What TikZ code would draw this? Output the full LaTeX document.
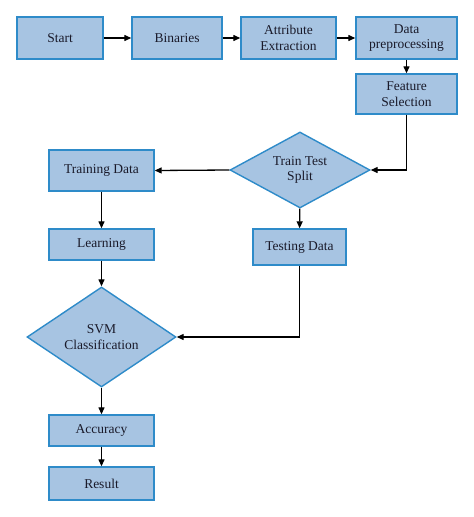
\documentclass[tikz,border=0pt]{standalone}
\usepackage{fontspec}
\setmainfont{Liberation Serif}
\usetikzlibrary{shapes.geometric,arrows.meta}
\definecolor{boxfill}{HTML}{A7C4E2}
\definecolor{boxline}{HTML}{2E8BC9}
\definecolor{txt}{HTML}{1A1A2A}
\begin{document}
\begin{tikzpicture}[x=1pt,y=-1pt,
  every node/.style={font=\fontsize{13.5}{15.5}\selectfont, text=txt, align=center},
  stepbox/.style={draw=boxline, fill=boxfill, line width=1.4pt, inner sep=0pt},
  decision/.style={diamond, draw=boxline, fill=boxfill, line width=1.4pt, inner sep=0pt},
  conn/.style={-{Triangle[length=7pt,width=6pt]}, line width=1.3pt, black}]
\useasboundingbox (0,0) rectangle (474,517);
% row 1
\node[stepbox, minimum width=86pt, minimum height=42pt] (start) at (60,38) {Start};
\node[stepbox, minimum width=90pt, minimum height=42pt] (bin) at (177,38) {Binaries};
\node[stepbox, minimum width=95pt, minimum height=42pt] (attr) at (288.5,38) {Attribute\\Extraction};
\node[stepbox, minimum width=101pt, minimum height=42pt] (prep) at (406.5,38) {Data\\preprocessing};
\node[stepbox, minimum width=101pt, minimum height=40pt] (feat) at (406.5,94) {Feature\\Selection};
% split
\node[decision, aspect=1.84, minimum width=140pt, minimum height=76pt] (split) at (300,170) {Train Test\\Split};
\node[stepbox, minimum width=105pt, minimum height=41pt] (train) at (101.5,170.5) {Training Data};
\node[stepbox, minimum width=105pt, minimum height=31pt] (learn) at (101.5,244.5) {Learning};
\node[stepbox, minimum width=93pt, minimum height=36pt] (test) at (299.5,247) {Testing Data};
\node[decision, aspect=1.49, minimum width=149pt, minimum height=100pt] (svm) at (101.5,337) {SVM\\Classification};
\node[stepbox, minimum width=105pt, minimum height=31pt] (acc) at (101.5,430.5) {Accuracy};
\node[stepbox, minimum width=105pt, minimum height=33pt] (res) at (101.5,483.5) {Result};
% connectors
\draw[conn] (start) -- (bin);
\draw[conn] (bin) -- (attr);
\draw[conn] (attr) -- (prep);
\draw[conn] (prep) -- (feat);
\draw[conn] (feat.south) |- (split.east);
\draw[conn] (split.west) -- (train.east);
\draw[conn] (split) -- (test);
\draw[conn] (train) -- (learn);
\draw[conn] (learn) -- (svm);
\draw[conn] (test.south) |- (svm.east);
\draw[conn] (svm) -- (acc);
\draw[conn] (acc) -- (res);
\end{tikzpicture}
\end{document}
